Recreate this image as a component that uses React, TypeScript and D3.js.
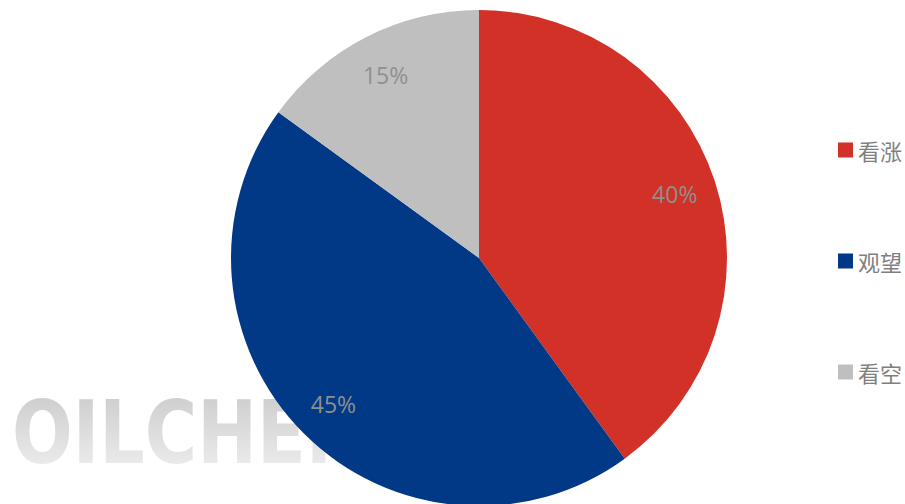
import React from "react";
import * as d3 from "d3";

const categories = ["看涨", "观望", "看空"];
const values = [40, 45, 15];
const colors = ["#d13126", "#013986", "#bfbfbf"];
const watermark = "OILCHEM";

const W = 905;
const H = 504;

export default function App() {
  const cx = 479;
  const cy = 258;
  const r = 248;
  const pie = d3.pie<number>().sort(null).startAngle(0).endAngle(2 * Math.PI);
  const arcs = pie(values);
  const arcGen = d3.arc<d3.PieArcDatum<number>>().innerRadius(0).outerRadius(r);
  const labelArc = d3.arc<d3.PieArcDatum<number>>().innerRadius(r * 0.83).outerRadius(r * 0.83);
  const total = d3.sum(values);

  const legendY = d3.scalePoint<string>().domain(categories).range([150, 372]);

  return (
    <svg width={W} height={H} style={{ position: "absolute", left: 0, top: 0, background: "#fff" }}>
      <defs>
        <linearGradient id="wm" x1="0" y1="0" x2="0" y2="1">
          <stop offset="0" stopColor="#c8c8c8" />
          <stop offset="1" stopColor="#f2f2f2" />
        </linearGradient>
      </defs>
      <text
        x={12}
        y={463}
        fontFamily="DejaVu Sans"
        fontWeight="bold"
        fontSize={88}
        textLength={365}
        lengthAdjust="spacingAndGlyphs"
        fill="url(#wm)"
      >
        {watermark}
      </text>
      <g transform={`translate(${cx},${cy})`}>
        {arcs.map((a, i) => (
          <path key={i} d={arcGen(a) || ""} fill={colors[i]} />
        ))}
        {arcs.map((a, i) => {
          const [x, y] = labelArc.centroid(a);
          return (
            <text
              key={"l" + i}
              x={x}
              y={y}
              textAnchor="middle"
              dominantBaseline="central"
              fontFamily="'Open Sans', 'Noto Sans', sans-serif"
              fontSize={23}
              fill="#8f8f8f"
            >
              {Math.round((values[i] / total) * 100) + "%"}
            </text>
          );
        })}
      </g>
      {categories.map((c, i) => (
        <g key={c} transform={`translate(838,${legendY(c)})`}>
          <rect x={0} y={-7.5} width={15} height={15} fill={colors[i]} />
          <text
            x={20}
            y={0}
            dominantBaseline="central"
            fontFamily="'Noto Sans CJK SC', sans-serif"
            fontSize={22}
            fill="#7f7f7f"
          >
            {c}
          </text>
        </g>
      ))}
    </svg>
  );
}
